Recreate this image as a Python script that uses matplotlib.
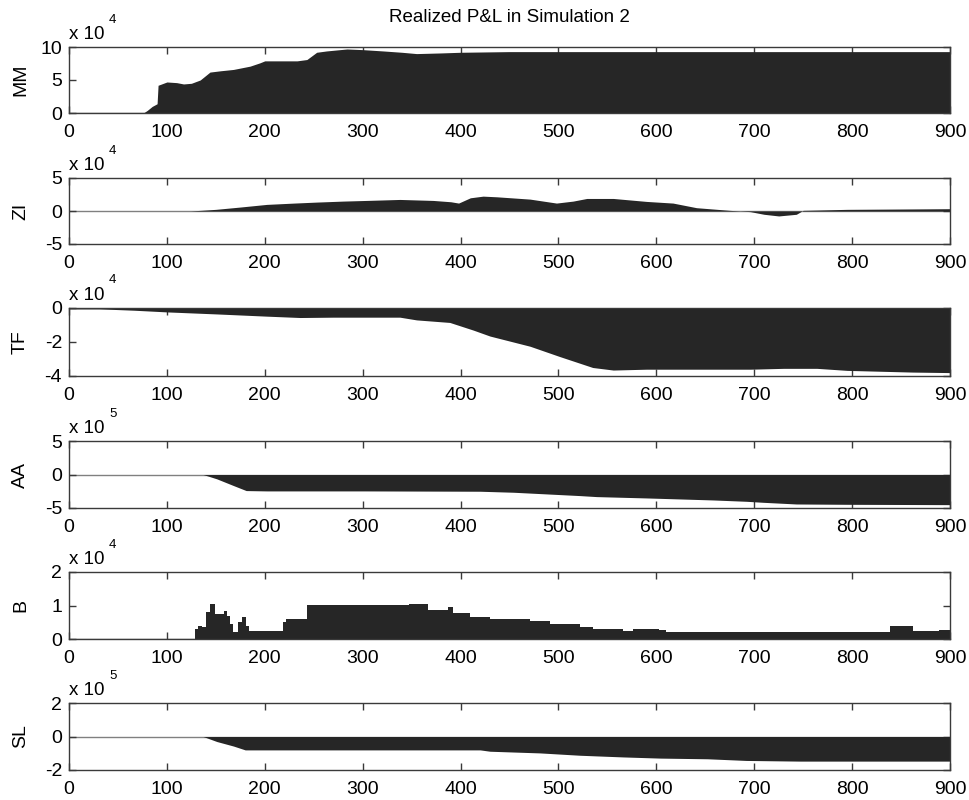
import numpy as np
import matplotlib
matplotlib.use("Agg")
import matplotlib.pyplot as plt

plt.rcParams['font.family'] = ['Liberation Sans', 'DejaVu Sans']

# Realized P&L per agent class, in units of the panel's multiplier
MM_x = [0, 76, 80, 85, 90, 91, 100, 110, 117, 125, 134, 144, 155, 168, 185, 195, 200,
        233, 243, 253, 263, 284, 300, 321, 340, 355, 380, 400, 450, 500, 600, 700, 800, 900]
MM_y = [0, 0, 0.4, 1.0, 1.4, 4.2, 4.7, 4.6, 4.4, 4.5, 5.0, 6.2, 6.4, 6.6, 7.1, 7.6, 7.9,
        7.9, 8.1, 9.2, 9.4, 9.7, 9.6, 9.4, 9.2, 9.0, 9.1, 9.2, 9.3, 9.3, 9.3, 9.3, 9.3, 9.3]

ZI_x = [0, 124, 150, 175, 202, 230, 253, 280, 304, 338, 372, 390, 398, 410, 423, 437,
        471, 498, 515, 529, 556, 590, 617, 641, 675, 696, 710, 725, 743, 750, 795, 850, 900]
ZI_y = [0, 0, 0.25, 0.6, 1.0, 1.2, 1.35, 1.5, 1.6, 1.75, 1.6, 1.4, 1.2, 2.0, 2.25, 2.15,
        1.8, 1.2, 1.5, 1.9, 1.9, 1.45, 1.2, 0.5, 0.1, -0.1, -0.5, -0.75, -0.5, 0.1, 0.25, 0.3, 0.35]

TF_x = [0, 31, 66, 100, 151, 202, 236, 270, 338, 355, 389, 413, 430, 471, 501, 535,
        556, 590, 696, 730, 764, 795, 862, 900]
TF_y = [-0.05, -0.05, -0.13, -0.23, -0.35, -0.48, -0.56, -0.54, -0.54, -0.7, -0.85, -1.3,
        -1.65, -2.25, -2.85, -3.5, -3.65, -3.6, -3.6, -3.55, -3.55, -3.67, -3.77, -3.8]

AA_x = [0, 137, 151, 168, 181, 202, 300, 420, 454, 488, 522, 539, 590, 624, 658, 692,
        709, 743, 795, 900]
AA_y = [0, 0, -0.65, -1.65, -2.4, -2.45, -2.45, -2.5, -2.65, -2.9, -3.15, -3.3, -3.5,
        -3.65, -3.8, -4.0, -4.15, -4.4, -4.45, -4.5]

B_x = [0, 129, 132, 136, 140, 144, 149, 158, 161, 164, 168, 173, 177, 181, 184, 219, 222,
       243, 347, 367, 387, 392, 410, 430, 471, 491, 522, 535, 566, 576, 603, 610, 655,
       839, 862, 889, 900]
B_y = [0, 0.3, 0.4, 0.35, 0.8, 1.05, 0.75, 0.85, 0.7, 0.45, 0.2, 0.5, 0.65, 0.4, 0.25,
       0.5, 0.6, 1.0, 1.05, 0.88, 0.95, 0.78, 0.65, 0.6, 0.55, 0.45, 0.35, 0.3, 0.25, 0.3,
       0.28, 0.22, 0.2, 0.4, 0.25, 0.28, 0.28]

SL_x = [0, 137, 151, 168, 180, 202, 420, 430, 481, 522, 566, 604, 652, 692, 747, 800, 900]
SL_y = [0, 0, -0.3, -0.57, -0.8, -0.8, -0.8, -0.88, -0.98, -1.12, -1.22, -1.29, -1.33,
        -1.43, -1.47, -1.47, -1.47]

names = ["MM", "ZI", "TF", "AA", "B", "SL"]
exponents = [4, 4, 4, 5, 4, 5]
ylims = [(0, 10), (-5, 5), (-4, 0), (-5, 5), (0, 2), (-2, 2)]
yticks = [[0, 5, 10], [-5, 0, 5], [-4, -2, 0], [-5, 0, 5], [0, 1, 2], [-2, 0, 2]]
xticks = [0, 100, 200, 300, 400, 500, 600, 700, 800, 900]
series = [(MM_x, MM_y, None), (ZI_x, ZI_y, None), (TF_x, TF_y, None),
          (AA_x, AA_y, None), (B_x, B_y, 'post'), (SL_x, SL_y, None)]

fig = plt.figure(figsize=(9.69, 8.0), dpi=100)
fill_col = '#262626'
edge_col = '#3a3a3a'

# axes boxes in pixels (top, bottom)
rows = [(47, 113), (178, 244), (308, 376), (441, 508), (572, 639), (703, 770)]
W, H = 969, 800
left, right = 69, 950

for i, (name, (xs, ys, step), ylim, yt, ex, (t, b)) in enumerate(
        zip(names, series, ylims, yticks, exponents, rows)):
    ax = fig.add_axes([left / W, 1 - b / H, (right - left) / W, (b - t) / H])
    ax.axhline(0, color='#808080', lw=1.0, zorder=1)
    ax.fill_between(xs, ys, 0, step=step, color=fill_col, lw=0, zorder=2)
    ax.set_xlim(0, 900)
    ax.set_ylim(*ylim)
    ax.set_xticks(xticks)
    ax.set_yticks(yt)
    ax.set_yticklabels([str(v) for v in yt])
    ax.tick_params(direction='in', length=5, width=1, colors=edge_col,
                   labelcolor='black', labelsize=14, top=True, right=True)
    ax.tick_params(axis='x', pad=8)
    ax.tick_params(axis='y', pad=5)
    for sp in ax.spines.values():
        sp.set_color(edge_col)
        sp.set_linewidth(1.0)
    ax.set_ylabel(name, fontsize=14)
    ax.yaxis.set_label_coords(-40 / (right - left), 0.5)
    ax.text(0, 1.06, 'x 10', transform=ax.transAxes, fontsize=13.5,
            ha='left', va='bottom')
    ax.text(40 / (right - left), 1.32, str(ex), transform=ax.transAxes,
            fontsize=9.5, ha='left', va='bottom')
    if i == 0:
        fig.text((left + right) / 2 / W, 1 - 18 / H, 'Realized P&L in Simulation 2',
                 fontsize=13.5, ha='center', va='center')

fig.savefig('out.png', dpi=100)
